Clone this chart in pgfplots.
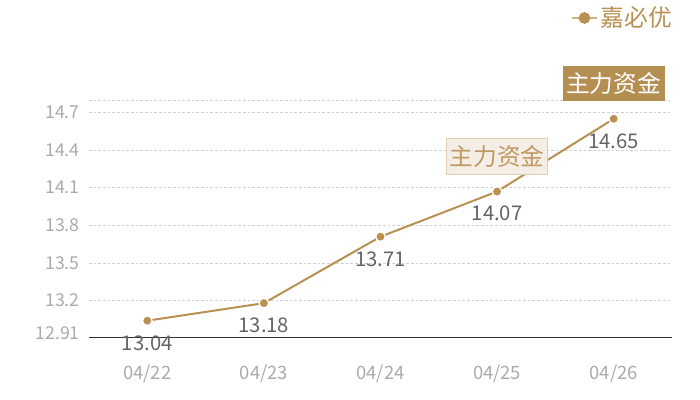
\documentclass[border=0pt]{standalone}
\usepackage{fontspec}
\setmainfont{Noto Sans CJK SC}
\usepackage{pgfplots}
\pgfplotsset{compat=1.18}
\definecolor{gold}{RGB}{184,145,82}
\definecolor{goldbox}{RGB}{181,142,82}
\definecolor{lightfill}{RGB}{244,238,230}
\definecolor{lightedge}{RGB}{226,208,182}
\definecolor{lighttext}{RGB}{190,153,98}
\definecolor{ticktext}{RGB}{170,170,170}
\definecolor{valtext}{RGB}{100,100,100}
\definecolor{gridc}{RGB}{208,208,208}
\definecolor{axisc}{RGB}{51,51,51}

\begin{document}
\begin{tikzpicture}
\begin{axis}[
    scale only axis,
    width=437.25pt, height=177.75pt,
    xmin=-0.5, xmax=4.5,
    ymin=12.91, ymax=14.8,
    clip=false,
    /pgf/number format/assume math mode=true,
    /pgf/number format/fixed,
    /pgf/number format/precision=2,
    axis line style={draw=none},
    axis x line*=bottom,
    x axis line style={draw=axisc, line width=0.75pt, -},
    major tick length=0pt,
    xtick={0,1,2,3,4},
    xticklabels={04/22,04/23,04/24,04/25,04/26},
    xticklabel style={anchor=base, yshift=-31.5pt, font=\fontsize{13.8pt}{15pt}\selectfont, text=ticktext},
    ytick={12.91,13.2,13.5,13.8,14.1,14.4,14.7,14.8},
    yticklabels={\raisebox{6pt}{12.91},13.2,13.5,13.8,14.1,14.4,14.7,},
    yticklabel style={anchor=east, inner sep=0pt, xshift=-6.75pt, font=\fontsize{13.3pt}{15pt}\selectfont, text=ticktext},
    ymajorgrids,
    major grid style={draw=gridc, line width=0.6pt, dash pattern=on 2pt off 1.5pt},
    legend style={at={(1.005,1.346)}, anchor=east, draw=none, fill=none,
        font=\fontsize{17.8pt}{19pt}\selectfont, text=gold, inner sep=0pt,
        /tikz/every even column/.append style={column sep=2pt}},
    legend image code/.code={
        \draw[gold!70, line width=1.5pt] (0pt,0pt) -- (19pt,0pt);
        \fill[gold] (9.5pt,0pt) circle (3.6pt);
    },
    nodes near coords,
    every node near coord/.append style={anchor=north, inner sep=0pt, yshift=-10.5pt,
        font=\fontsize{15.2pt}{16pt}\selectfont, text=valtext},
]
\addplot[gold, line width=1.5pt, mark=*, mark size=3.6pt,
    mark options={fill=gold, draw=white, line width=1pt}]
    coordinates {(0,13.04) (1,13.18) (2,13.71) (3,14.07) (4,14.65)};
\addlegendentry{嘉必优}

\node[fill=lightfill, draw=lightedge, line width=1pt, text=lighttext, inner sep=0pt,
    minimum width=75.75pt, minimum height=27pt, font=\fontsize{17.8pt}{19pt}\selectfont]
    at ([yshift=26.5pt]axis cs:3,14.07) {主力资金};
\node[fill=goldbox, text=white, inner sep=0pt,
    minimum width=76.5pt, minimum height=26.25pt, font=\fontsize{17.8pt}{19pt}\selectfont]
    at ([yshift=26.25pt]axis cs:4,14.65) {主力资金};
\end{axis}
\pgfresetboundingbox
\useasboundingbox ([shift={(-66.75pt,-47.25pt)}]current axis.south west) rectangle ([shift={(458.25pt,252.75pt)}]current axis.south west);
\end{tikzpicture}
\end{document}
